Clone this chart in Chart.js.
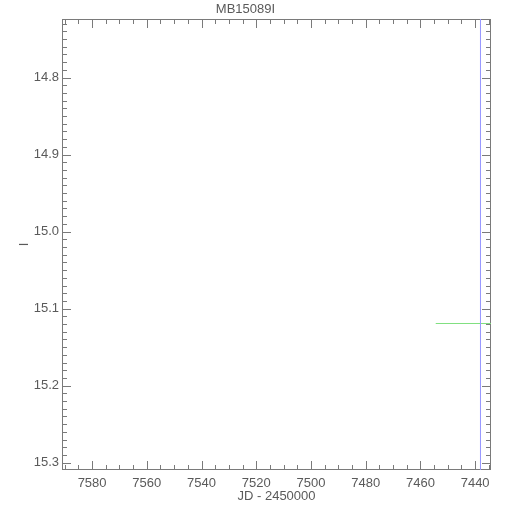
<!DOCTYPE html>
<html>
<head>
<meta charset="utf-8">
<script src="https://cdn.jsdelivr.net/npm/chart.js@4/dist/chart.umd.min.js"></script>
<style>
html,body{margin:0;padding:0;background:#fff;}
</style>
</head>
<body>
<canvas id="c" width="510" height="510"></canvas>
<script>
(function(){
'use strict';

// tick labels
const xTickValues = [7440, 7460, 7480, 7500, 7520, 7540, 7560, 7580];
const yTickValues = [14.8, 14.9, 15.0, 15.1, 15.2, 15.3];

// axis ranges (both reversed)
const xRange = [7434.2, 7591];
const yRange = [14.724, 15.3095];

// vertical marker (blue)
const markerJD  = [7438.04, 7438.04];
const markerMag = [14.70, 15.33];

// baseline segment (green)
const baseJD  = [7454.4, 7434.0];
const baseMag = [15.1193, 15.1193];

const AXIS = '#7a7a7a';
const TEXT = '#5a5a5a';
const FONT = 'Liberation Sans, Arial, sans-serif';

// inward ticks on all four sides, drawn through the scales
const frameTicks = {
  id:'frameTicks',
  beforeDatasetsDraw(chart){
    const {ctx, chartArea:a, scales:{x, y}} = chart;
    ctx.save();
    ctx.strokeStyle = AXIS;
    ctx.lineWidth = 1;
    ctx.strokeRect(a.left + 0.5, a.top + 0.5, a.right - a.left - 1, a.bottom - a.top - 1);
    ctx.beginPath();
    for(let v = 7435; v <= 7590; v += 5){
      const px = Math.round(x.getPixelForValue(v)) + 0.5;
      const len = (v % 20 === 0) ? 9 : 5;
      ctx.moveTo(px, a.bottom); ctx.lineTo(px, a.bottom - len);
      ctx.moveTo(px, a.top);    ctx.lineTo(px, a.top + len);
    }
    for(let i = 1473; i <= 1530; i++){
      const v = i / 100;
      const py = Math.round(y.getPixelForValue(v)) + 0.5;
      const len = (i % 10 === 0) ? 9 : 5;
      ctx.moveTo(a.left, py);  ctx.lineTo(a.left + len, py);
      ctx.moveTo(a.right, py); ctx.lineTo(a.right - len, py);
    }
    ctx.stroke();
    ctx.restore();
  }
};

const toPts = (xs, ys) => xs.map((v, i) => ({x:v, y:ys[i]}));

new Chart(document.getElementById('c').getContext('2d'), {
  type:'line',
  data:{
    datasets:[
      { data: toPts(markerJD, markerMag), borderColor:'#9898ff', borderWidth:1, pointRadius:0, fill:false },
      { data: toPts(baseJD, baseMag), borderColor:'#80e080', borderWidth:1, pointRadius:0, fill:false }
    ]
  },
  options:{
    responsive:false,
    animation:false,
    devicePixelRatio:1,
    layout:{ padding:{ top:0, right:19, bottom:0, left:0 } },
    plugins:{
      legend:{ display:false },
      tooltip:{ enabled:false },
      title:{
        display:true, text:'MB15089I', color:TEXT,
        font:{ family:FONT, size:13, weight:'normal', lineHeight:1.2 },
        padding:{ top:1.5, bottom:1.9 }
      }
    },
    scales:{
      x:{
        type:'linear', reverse:true, min:xRange[0], max:xRange[1],
        afterBuildTicks: s => { s.ticks = xTickValues.map(v => ({value:v})); },
        afterFit: s => { s.height = 40; },
        grid:{ display:false, drawTicks:false },
        border:{ display:false },
        ticks:{ color:TEXT, padding:6, maxRotation:0, font:{ family:FONT, size:13 }, callback: v => String(v) },
        title:{ display:true, text:'JD - 2450000', color:TEXT, font:{ family:FONT, size:13 }, padding:{ top:0, bottom:6 } }
      },
      y:{
        type:'linear', reverse:true, min:yRange[0], max:yRange[1],
        afterBuildTicks: s => { s.ticks = yTickValues.map(v => ({value:v})); },
        afterFit: s => { s.width = 62; },
        grid:{ display:false, drawTicks:false },
        border:{ display:false },
        ticks:{ color:TEXT, padding:3, font:{ family:FONT, size:13 }, callback: v => Number(v).toFixed(1) },
        title:{ display:true, text:'I', color:TEXT, font:{ family:FONT, size:13 }, padding:{ top:17, bottom:0 } }
      }
    }
  },
  plugins:[frameTicks]
});

})();
</script>
</body>
</html>
